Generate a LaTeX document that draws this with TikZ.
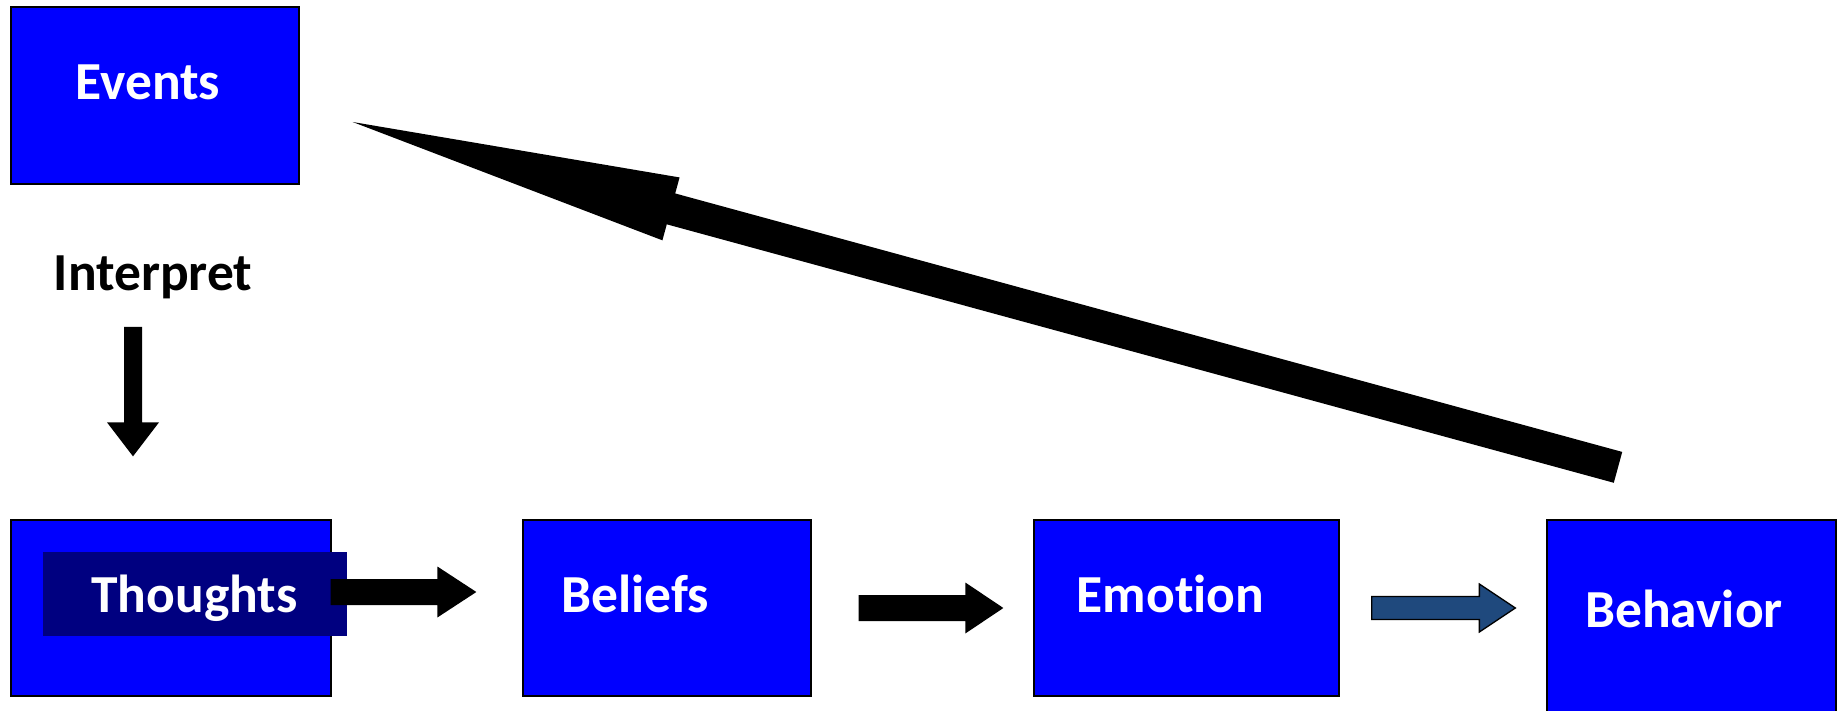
\documentclass[tikz,border=0pt]{standalone}
\usepackage{fontspec}
\setmainfont{Carlito}[Ligatures={NoCommon}]
\usetikzlibrary{calc}

\definecolor{boxblue}{RGB}{0,0,255}
\definecolor{boxnavy}{RGB}{0,0,128}
\definecolor{arrowsteel}{RGB}{31,73,125}

% block arrow: [style]{from}{to}{half shaft}{half head}{head length}
\newcommand\blockarrow[6][fill=black]{%
  \coordinate (hb) at ($(#3)!#6!(#2)$);
  \path[#1] ($(#2)!#4!90:(#3)$) -- ($(hb)!#4!90:(#3)$) -- ($(hb)!#5!90:(#3)$) -- (#3)
    -- ($(hb)!#5!-90:(#3)$) -- ($(hb)!#4!-90:(#3)$) -- ($(#2)!#4!-90:(#3)$) -- cycle;}

\begin{document}
\begin{tikzpicture}[x=1pt, y=1pt,
    box/.style={draw=black, line width=1.3pt, fill=boxblue, inner sep=0pt},
    lbl/.style={font=\fontsize{53.5}{64}\selectfont\bfseries, text=white, anchor=base, inner sep=0pt}]
  \useasboundingbox (0,0) rectangle (1839,710);
  \clip (0,0) rectangle (1839,710);

  % Boxes
  \node[box, minimum width=288pt, minimum height=177pt] (events) at (155,614.5) {};
  \node[box, minimum width=320pt, minimum height=176pt] (thoughtsbox) at (171,102) {};
  \node[fill=boxnavy, inner sep=0pt, minimum width=304pt, minimum height=84pt] (thoughtsbar) at (195,116) {};
  \node[box, minimum width=288pt, minimum height=176pt] (beliefs) at (667,102) {};
  \node[box, minimum width=305pt, minimum height=176pt] (emotion) at (1186.5,102) {};
  \node[box, minimum width=289pt, minimum height=196pt] (behavior) at (1691.5,92) {};

  % Labels
  \node[lbl] (eventstext) at (148,610) {Events};
  \node[lbl, text=black] (interpret) at (153,419) {Interpret};
  \node[lbl] (thoughtstext) at (194.5,98) {Thoughts};
  \node[lbl] (beliefstext) at (635,98) {Beliefs};
  \node[lbl] (emotiontext) at (1170.5,98) {Emotion};
  \node[lbl] (behaviortext) at (1684,83) {Behavior};

  % Arrow ends
  \coordinate (down0) at ([shift={(-20,-36)}]interpret.base);
  \coordinate (down1) at ([shift={(-38,63)}]thoughtsbox.north);
  \coordinate (tb0) at ([shift={(-1,16)}]thoughtsbox.east);
  \coordinate (tb1) at ([shift={(-46,16)}]beliefs.west);
  \coordinate (be0) at ([shift={(47,0)}]beliefs.east);
  \coordinate (be1) at ([shift={(-30,0)}]emotion.west);
  \coordinate (eb0) at ([shift={(32,0)}]emotion.east);
  \coordinate (eb1) at ([shift={(-31,10)}]behavior.west);
  \coordinate (back0) at ([shift={(-73.5,52)}]behavior.north);
  \coordinate (back1) at ([shift={(53,-26.5)}]events.east);

  % Arrows
  \blockarrow{down0}{down1}{9pt}{26pt}{34pt}
  \blockarrow{tb0}{tb1}{13pt}{25.5pt}{39pt}
  \blockarrow{be0}{be1}{13pt}{25.5pt}{38pt}
  \blockarrow[fill=arrowsteel, draw=black, line width=1.3pt]{eb0}{eb1}{11.5pt}{24pt}{36pt}
  \blockarrow{back0}{back1}{16pt}{32.6pt}{330pt}
\end{tikzpicture}
\end{document}
